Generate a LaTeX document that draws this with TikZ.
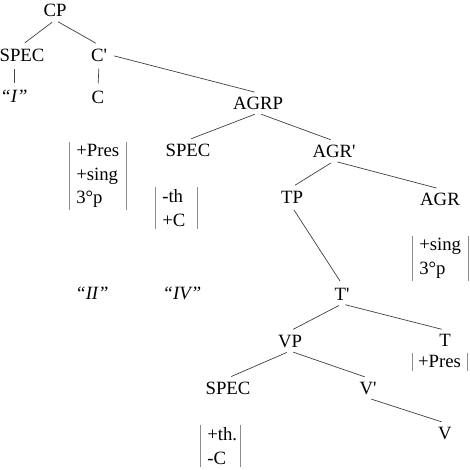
\documentclass[tikz,border=0pt]{standalone}
\usepackage{fontspec}
\setmainfont{Liberation Serif}
\usepackage{tikz}
\tikzset{
  cat/.style={inner sep=3pt, font=\fontsize{16}{20}\selectfont},
  feat/.style={cat, align=left, anchor=north west, inner xsep=6pt, inner ysep=2pt},
  branch/.style={draw=black!75, line width=0.6pt, shorten <=3pt, shorten >=3pt},
  bar/.style={draw=black!45, line width=0.6pt}
}

\begin{document}
\begin{tikzpicture}[x=0.03cm, y=-0.03cm]
                \useasboundingbox (0,0) rectangle (470,470);
                % categories
                \node[cat] (cp) at (55,10) {CP};
                \node[cat] (spec1) at (22,55) {SPEC};
                \node[cat] (cbar) at (99,55) {C\textquotesingle};
                \node[cat] (one) at (14,96) {\textit{``I''}};
                \node[cat] (c) at (98,97) {C};
                \node[cat] (agrp) at (258,103) {AGRP};
                \node[cat] (spec2) at (188,150) {SPEC};
                \node[cat] (agrbar) at (334,151) {AGR\textquotesingle};
                \node[cat] (tp) at (292,197) {TP};
                \node[cat] (agr) at (440,199) {AGR};
                \node[cat] (two) at (92,293) {\textit{``II''}};
                \node[cat] (four) at (182,293) {\textit{``IV''}};
                \node[cat] (tbar) at (342,294) {T\textquotesingle};
                \node[cat] (vp) at (290,341) {VP};
                \node[cat] (t) at (445,340) {T};
                \node[cat] (spec3) at (228,388) {SPEC};
                \node[cat] (vbar) at (368,388) {V\textquotesingle};
                \node[cat] (v) at (445,433) {V};
                % feature boxes
                \node[feat] (fc) at (69,142) {+Pres\\+sing\\3°p};
                \node[feat, text width=24pt] (fspec) at (155,187) {-th\\+C};
                \node[feat] (fagr) at (412,236) {+sing\\3°p};
                \node[feat, inner xsep=5pt] (ft) at (412,353) {+Pres};
                \node[feat, text width=22pt] (fvspec) at (200,425) {+th.\\-C};
                \foreach \b in {fc,fspec,fagr,ft,fvspec}
                    \draw[bar] (\b.north west) -- (\b.south west) (\b.north east) -- (\b.south east);
                % branches
                \draw[branch] (cp.south) -- (spec1.north);
                \draw[branch] (cp.south) -- (cbar.north);
                \draw[branch] (spec1.south -| one.north) -- (one.north);
                \draw[branch] (cbar.south) -- (c.north);
                \draw[branch] (cbar.east) -- (agrp.north);
                \draw[branch] (agrp.south) -- (spec2.north);
                \draw[branch] (agrp.south) -- (agrbar.north);
                \draw[branch] (agrbar.south) -- (tp.north);
                \draw[branch] (agrbar.south) -- (agr.north);
                \draw[branch] (tp.south) -- (tbar.north);
                \draw[branch] (tbar.south) -- (vp.north);
                \draw[branch] (tbar.south) -- (t.north);
                \draw[branch] (vp.south) -- (spec3.north);
                \draw[branch] (vp.south) -- (vbar.north);
                \draw[branch] (vbar.south) -- (v.north);
            \end{tikzpicture}
\end{document}
